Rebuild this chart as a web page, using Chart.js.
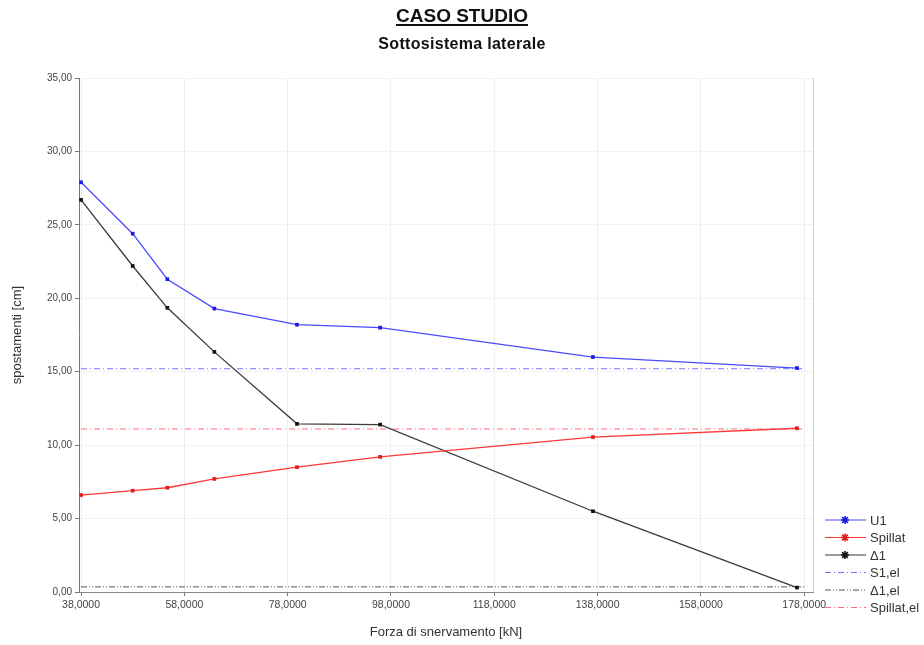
<!DOCTYPE html>
<html>
<head>
<meta charset="utf-8">
<script src="https://cdn.jsdelivr.net/npm/chart.js@4.4.1/dist/chart.umd.min.js"></script>
<style>
  html,body{margin:0;padding:0;background:#fff;}
  #wrap{position:relative;width:924px;height:645px;}
  #title{position:absolute;left:0;width:924px;top:5px;text-align:center;font:bold 19px/22px "Liberation Sans",Arial,sans-serif;color:#111;text-decoration:underline;text-decoration-thickness:2px;text-underline-offset:2px;}
  #subtitle{position:absolute;left:0;width:924px;top:34px;text-align:center;font:bold 16px/20px "Liberation Sans",Arial,sans-serif;color:#111;letter-spacing:0.3px;}
  canvas{position:absolute;left:0;top:0;}
</style>
</head>
<body>
<div id="wrap">
  <canvas id="c" width="924" height="645"></canvas>
  <div id="title">CASO STUDIO</div>
  <div id="subtitle">Sottosistema laterale</div>
</div>
<script>
// ---- data ----
const xForce   = [38, 48, 54.7, 63.8, 79.8, 95.9, 137.1, 176.6];
const u1       = [27.9, 24.4, 21.3, 19.3, 18.2, 18.0, 16.0, 15.25];
const spillat  = [6.6, 6.9, 7.1, 7.7, 8.5, 9.2, 10.55, 11.15];
const delta1   = [26.7, 22.2, 19.35, 16.35, 11.45, 11.4, 5.5, 0.3];
const elX      = [38, 178];
const s1el     = [15.2, 15.2];
const delta1el = [0.35, 0.35];
const spillatEl= [11.1, 11.1];
const xTicks   = [38, 58, 78, 98, 118, 138, 158, 178];
const yTicks   = [0, 5, 10, 15, 20, 25, 30, 35];
const seriesLabels = ['U1', 'Spillat', 'Δ1', 'S1,el', 'Δ1,el', 'Spillat,el'];

const pts = (xs, ys) => xs.map((x, i) => ({x: x, y: ys[i]}));
const FONT = '"Liberation Sans", Arial, sans-serif';

const mainDs = (label, ys, color, mark) => ({
  label, data: pts(xForce, ys), borderColor: color, backgroundColor: mark,
  borderWidth: 1.3, pointStyle: 'rect', pointRadius: 2.6, pointBorderWidth: 0,
  pointBackgroundColor: mark, tension: 0, marker: true
});
const elDs = (label, ys, color, dash) => ({
  label, data: pts(elX, ys), borderColor: color, backgroundColor: color,
  borderWidth: 1, borderDash: dash, pointRadius: 0, tension: 0, marker: false
});

const legendPlugin = {
  id: 'customLegend',
  afterDraw(chart) {
    const ctx = chart.ctx;
    const x0 = 825, x1 = 866, tx = 870, y0 = 520, dy = 17.5;
    ctx.save();
    chart.data.datasets.forEach((ds, i) => {
      const y = y0 + i * dy;
      ctx.strokeStyle = ds.borderColor;
      ctx.lineWidth = 1;
      ctx.setLineDash(ds.borderDash || []);
      ctx.beginPath(); ctx.moveTo(x0, y); ctx.lineTo(x1, y); ctx.stroke();
      ctx.setLineDash([]);
      if (ds.marker) {
        const cx = 845, r = 4;
        ctx.strokeStyle = ds.pointBackgroundColor;
        ctx.lineWidth = 1.6;
        ctx.beginPath();
        for (let k = 0; k < 4; k++) {
          const a = k * Math.PI / 4;
          ctx.moveTo(cx - r * Math.cos(a), y - r * Math.sin(a));
          ctx.lineTo(cx + r * Math.cos(a), y + r * Math.sin(a));
        }
        ctx.stroke();
      }
      ctx.fillStyle = '#333';
      ctx.font = '13px ' + FONT;
      ctx.textBaseline = 'middle';
      ctx.textAlign = 'left';
      ctx.fillText(ds.label, tx, y + 1);
    });
    // right frame line
    const a = chart.chartArea;
    ctx.strokeStyle = '#d0d0d0';
    ctx.lineWidth = 1;
    ctx.beginPath(); ctx.moveTo(a.right + 0.5, a.top); ctx.lineTo(a.right + 0.5, a.bottom); ctx.stroke();
    ctx.restore();
  }
};

new Chart(document.getElementById('c'), {
  type: 'line',
  data: {
    datasets: [
      mainDs(seriesLabels[0], u1, '#4a4aff', '#1a1ae6'),
      mainDs(seriesLabels[1], spillat, '#ff3838', '#e61a1a'),
      mainDs(seriesLabels[2], delta1, '#3a3a3a', '#111111'),
      elDs(seriesLabels[3], s1el, '#7070ff', [6, 3, 1, 3]),
      elDs(seriesLabels[4], delta1el, '#555555', [6, 2, 1, 2, 1, 2]),
      elDs(seriesLabels[5], spillatEl, '#ff6a78', [6, 3, 1, 3])
    ]
  },
  options: {
    responsive: false,
    animation: false,
    layout: {padding: {left: 0, top: 78, right: 111, bottom: 0}},
    plugins: {legend: {display: false}, tooltip: {enabled: false}},
    scales: {
      x: {
        type: 'linear', min: 37.6, max: 179.7,
        afterBuildTicks: s => { s.ticks = xTicks.map(v => ({value: v})); },
        afterFit: s => { s.height = 53; },
        ticks: {font: {family: FONT, size: 10.5}, color: '#444', padding: 3,
                maxRotation: 0, autoSkip: false,
                callback: v => Number(v).toFixed(4).replace('.', ',')},
        grid: {color: '#eeeeee', tickColor: '#777', tickLength: 4},
        border: {color: '#888', width: 1},
        title: {display: true, text: 'Forza di snervamento [kN]', color: '#333',
                font: {family: FONT, size: 13}, padding: {top: 4, bottom: 5}}
      },
      y: {
        type: 'linear', min: 0, max: 35,
        afterBuildTicks: s => { s.ticks = yTicks.map(v => ({value: v})); },
        afterFit: s => { s.width = 79; },
        ticks: {font: {family: FONT, size: 10}, color: '#444', padding: 3,
                callback: v => Number(v).toFixed(2).replace('.', ',')},
        grid: {color: '#f2f2f2', tickColor: '#777', tickLength: 4},
        border: {color: '#777', width: 1},
        title: {display: true, text: 'spostamenti [cm]', color: '#333',
                font: {family: FONT, size: 13}, padding: {top: 10, bottom: 4}}
      }
    }
  },
  plugins: [legendPlugin]
});
</script>
</body>
</html>
